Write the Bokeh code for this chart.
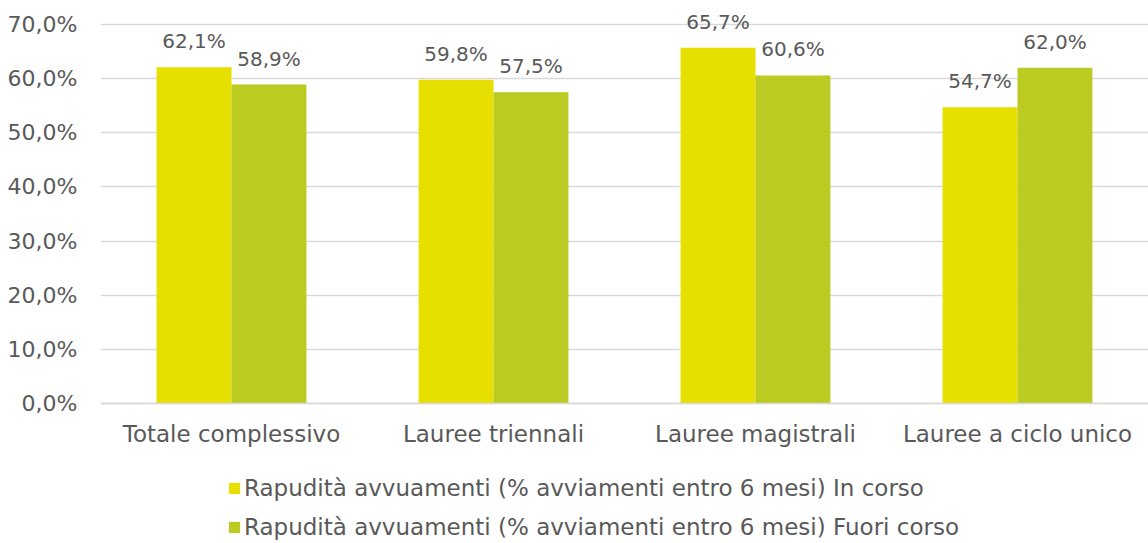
from bokeh.plotting import figure
from bokeh.models import ColumnDataSource, FactorRange, Range1d, Legend, LegendItem, FixedTicker, CustomJSTickFormatter
from bokeh.transform import dodge
from bokeh.embed import file_html
from bokeh.resources import INLINE

categories = ["Totale complessivo", "Lauree triennali", "Lauree magistrali", "Lauree a ciclo unico"]
in_corso = [62.1, 59.8, 65.7, 54.7]
fuori_corso = [58.9, 57.5, 60.6, 62.0]
series_names = ["Rapudità avvuamenti (% avviamenti entro 6 mesi) In corso",
                "Rapudità avvuamenti (% avviamenti entro 6 mesi) Fuori corso"]
y_ticks = [0, 10, 20, 30, 40, 50, 60, 70]

FONT = "DejaVu Sans"
TXT = "#595959"
C1 = "#E6DF00"
C2 = "#BBCB22"

def fmt(v):
    return ("%.1f" % v).replace(".", ",") + "%"

src = ColumnDataSource(dict(
    cat=categories,
    a=in_corso, b=fuori_corso,
    la=[fmt(v) for v in in_corso], lb=[fmt(v) for v in fuori_corso],
))

p = figure(width=1148, height=543, x_range=FactorRange(*categories), y_range=Range1d(-25.86, 74.43),
           output_backend="svg", toolbar_location=None,
           min_border_left=100, min_border_right=0, min_border_top=0, min_border_bottom=0)
p.outline_line_color = None

w = 0.286
r1 = p.vbar(x=dodge("cat", -w / 2, range=p.x_range), top="a", width=w, source=src, fill_color=C1, line_color=None)
r2 = p.vbar(x=dodge("cat", w / 2, range=p.x_range), top="b", width=w, source=src, fill_color=C2, line_color=None)

for col, lab, off in (("a", "la", -w / 2), ("b", "lb", w / 2)):
    p.text(x=dodge("cat", off, range=p.x_range), y=col, text=lab, source=src, text_align="center",
           text_baseline="bottom", y_offset=-14, text_font_size="20px", text_color=TXT,
           text_font={"value": FONT})

p.yaxis.ticker = FixedTicker(ticks=y_ticks)
p.yaxis.formatter = CustomJSTickFormatter(code="return tick.toFixed(1).replace('.', ',') + '%';")
p.yaxis.axis_line_color = None
p.yaxis.major_tick_line_color = None
p.yaxis.minor_tick_line_color = None
p.yaxis.major_label_standoff = 17
p.yaxis.major_label_text_font_size = "22px"
p.yaxis.major_label_text_color = TXT
p.yaxis.major_label_text_font = FONT

p.xaxis.fixed_location = 0
p.xaxis.axis_line_color = "#D9D9D9"
p.xaxis.axis_line_width = 1.5
p.xaxis.major_tick_line_color = None
p.xaxis.minor_tick_line_color = None
p.xaxis.major_label_standoff = 12
p.xaxis.major_label_text_font_size = "23px"
p.xaxis.major_label_text_color = TXT
p.xaxis.major_label_text_font = FONT

p.xgrid.grid_line_color = None
p.ygrid.grid_line_color = "#D9D9D9"
p.ygrid.grid_line_width = 1.5

legend = Legend(items=[LegendItem(label=series_names[0], renderers=[r1]),
                       LegendItem(label=series_names[1], renderers=[r2])],
                location=(127, 3), orientation="vertical",
                glyph_width=14, glyph_height=14, label_height=20, spacing=13,
                padding=0, margin=0, label_standoff=3,
                label_text_font_size="23px", label_text_color=TXT, label_text_font=FONT,
                border_line_color=None, background_fill_alpha=0)
p.add_layout(legend, "center")

open("out.html", "w").write(file_html(p, INLINE))
